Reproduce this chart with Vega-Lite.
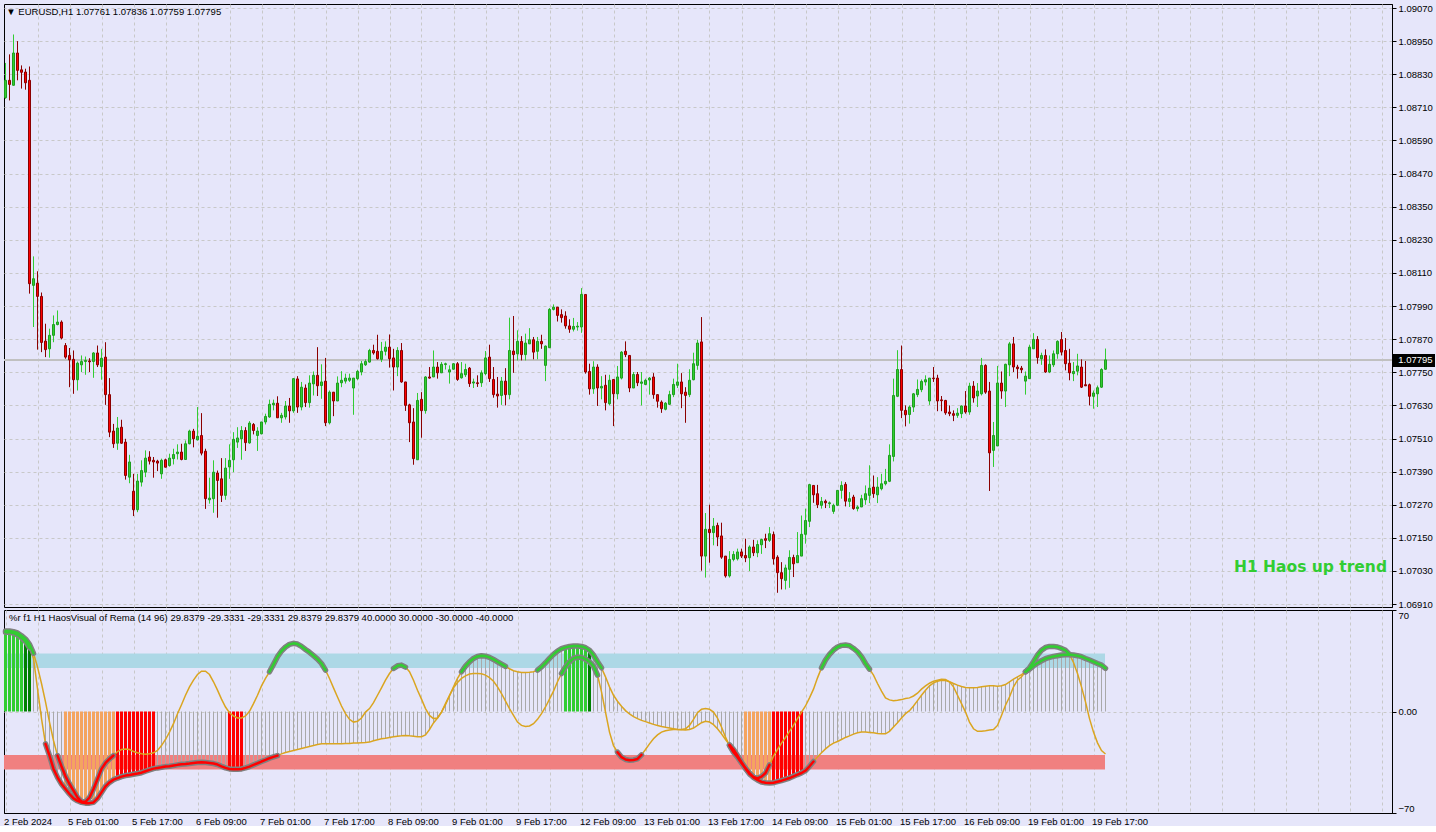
{
"$schema":"https://vega.github.io/schema/vega-lite/v6.json",
"background":"#E6E6FA",
"padding":{"left":2,"top":2,"right":0,"bottom":0},
"spacing":3,
"bounds":"flush",
"config":{"view":{"stroke":"#000000","strokeWidth":1,"fill":"#E6E6FA"},"font":"Liberation Sans","scale":{"continuousPadding":0},"axis":{"labelFont":"Liberation Sans","labelFontSize":9.5,"labelColor":"#000000","domainColor":"#000000","tickColor":"#000000","gridColor":"#C8C8C8","gridDash":[3,3],"gridWidth":1,"title":null,"labelOverlap":false,"tickCount":200}},
"data":{"values":[
{"i":0,"o":1.08745,"h":1.08871,"l":1.08741,"c":1.08808,"f":55.6,"s":54.6,"k":"l","fa":"a","sa":"a"},
{"i":1,"o":1.08808,"h":1.08902,"l":1.08735,"c":1.08793,"f":55.6,"s":54.6,"k":"l","fa":"a","sa":"a"},
{"i":2,"o":1.0879,"h":1.08974,"l":1.08789,"c":1.08907,"f":55.1,"s":54.2,"k":"l","fa":"a","sa":"a"},
{"i":3,"o":1.08907,"h":1.0895,"l":1.08808,"c":1.08844,"f":54.2,"s":52.8,"k":"l","fa":"a","sa":"a"},
{"i":4,"o":1.08846,"h":1.08862,"l":1.08778,"c":1.08837,"f":52.3,"s":50.9,"k":"l","fa":"a","sa":"a"},
{"i":5,"o":1.08838,"h":1.0885,"l":1.08774,"c":1.08799,"f":50.0,"s":48.2,"k":"d","fa":"a","sa":"a"},
{"i":6,"o":1.08808,"h":1.08858,"l":1.08035,"c":1.08071,"f":46.3,"s":44.0,"k":"d","fa":"a","sa":"a"},
{"i":7,"o":1.08065,"h":1.0817,"l":1.07914,"c":1.08089,"f":40.1,"s":36.6,"fa":"a"},
{"i":8,"o":1.08073,"h":1.08116,"l":1.07832,"c":1.08025,"f":30.8,"s":15.8},
{"i":9,"o":1.08025,"h":1.08039,"l":1.07823,"c":1.07858,"f":19.3,"s":-4.9},
{"i":10,"o":1.07863,"h":1.07926,"l":1.07805,"c":1.07832,"f":6.6,"s":-22.3,"sa":"b"},
{"i":11,"o":1.07835,"h":1.07908,"l":1.07803,"c":1.07884,"f":-7.3,"s":-30.4,"sa":"b"},
{"i":12,"o":1.07884,"h":1.07956,"l":1.07859,"c":1.07923,"f":-20.0,"s":-39.6,"sa":"b"},
{"i":13,"o":1.07923,"h":1.07974,"l":1.0792,"c":1.07932,"f":-30.4,"s":-45.4,"fa":"b","sa":"b"},
{"i":14,"o":1.07932,"h":1.07938,"l":1.07869,"c":1.07874,"f":-37.8,"s":-50.0,"fa":"b","sa":"b"},
{"i":15,"o":1.07847,"h":1.07856,"l":1.07799,"c":1.07805,"f":-44.7,"s":-53.5,"k":"o","fa":"b","sa":"b"},
{"i":16,"o":1.07811,"h":1.07838,"l":1.07696,"c":1.07795,"f":-50.0,"s":-56.9,"k":"o","fa":"b","sa":"b"},
{"i":17,"o":1.07797,"h":1.07829,"l":1.07672,"c":1.07723,"f":-54.6,"s":-59.9,"k":"o","fa":"b","sa":"b"},
{"i":18,"o":1.07723,"h":1.07789,"l":1.07684,"c":1.07783,"f":-59.3,"s":-61.6,"k":"o","fa":"b","sa":"b"},
{"i":19,"o":1.07777,"h":1.07811,"l":1.07751,"c":1.07789,"f":-62.0,"s":-62.7,"k":"o","fa":"b","sa":"b"},
{"i":20,"o":1.07789,"h":1.07807,"l":1.07741,"c":1.07793,"f":-62.3,"s":-63.2,"k":"o","fa":"b","sa":"b"},
{"i":21,"o":1.07791,"h":1.07801,"l":1.07751,"c":1.07788,"f":-59.3,"s":-63.2,"k":"o","fa":"b","sa":"b"},
{"i":22,"o":1.07789,"h":1.07823,"l":1.0773,"c":1.0782,"f":-53.5,"s":-62.7,"k":"o","fa":"b","sa":"b"},
{"i":23,"o":1.0782,"h":1.07847,"l":1.07769,"c":1.07777,"f":-46.6,"s":-59.9,"k":"o","fa":"b","sa":"b"},
{"i":24,"o":1.07771,"h":1.07835,"l":1.07723,"c":1.07801,"f":-39.6,"s":-55.8,"k":"o","fa":"b","sa":"b"},
{"i":25,"o":1.07805,"h":1.07859,"l":1.07632,"c":1.07669,"f":-35.5,"s":-51.6,"k":"o","fa":"b","sa":"b"},
{"i":26,"o":1.07669,"h":1.07729,"l":1.07515,"c":1.07533,"f":-32.7,"s":-48.9,"k":"o","fa":"b","sa":"b"},
{"i":27,"o":1.07537,"h":1.07563,"l":1.07476,"c":1.07491,"f":-30.4,"s":-47.0,"k":"o","fa":"b","sa":"b"},
{"i":28,"o":1.07493,"h":1.07588,"l":1.07469,"c":1.07548,"f":-27.6,"s":-45.9,"k":"r","sa":"b"},
{"i":29,"o":1.07551,"h":1.07578,"l":1.07491,"c":1.07493,"f":-26.2,"s":-44.9,"k":"r","sa":"b"},
{"i":30,"o":1.07497,"h":1.07509,"l":1.07361,"c":1.07376,"f":-25.8,"s":-44.2,"k":"r","sa":"b"},
{"i":31,"o":1.0737,"h":1.07451,"l":1.07348,"c":1.07425,"f":-26.2,"s":-43.8,"k":"r","sa":"b"},
{"i":32,"o":1.07319,"h":1.07382,"l":1.07229,"c":1.07252,"f":-27.6,"s":-43.3,"k":"r","sa":"b"},
{"i":33,"o":1.07252,"h":1.07382,"l":1.07243,"c":1.07356,"f":-28.5,"s":-42.8,"k":"r","sa":"b"},
{"i":34,"o":1.07352,"h":1.07431,"l":1.07336,"c":1.07394,"f":-29.2,"s":-42.2,"k":"r","sa":"b"},
{"i":35,"o":1.07388,"h":1.07467,"l":1.0737,"c":1.07439,"f":-29.5,"s":-41.2,"k":"r","sa":"b"},
{"i":36,"o":1.07443,"h":1.07464,"l":1.07416,"c":1.07428,"f":-29.2,"s":-40.3,"k":"r","sa":"b"},
{"i":37,"o":1.07431,"h":1.07443,"l":1.07368,"c":1.07425,"f":-28.5,"s":-39.4,"k":"r","sa":"b"},
{"i":38,"o":1.07428,"h":1.07433,"l":1.07392,"c":1.07421,"f":-26.9,"s":-38.9,"sa":"b"},
{"i":39,"o":1.07382,"h":1.07437,"l":1.07364,"c":1.07431,"f":-23.5,"s":-38.5,"sa":"b"},
{"i":40,"o":1.07433,"h":1.07437,"l":1.07406,"c":1.07406,"f":-19.3,"s":-38.0,"sa":"b"},
{"i":41,"o":1.07412,"h":1.07455,"l":1.07408,"c":1.07439,"f":-14.2,"s":-37.8,"sa":"b"},
{"i":42,"o":1.07437,"h":1.07473,"l":1.07416,"c":1.07452,"f":-8.4,"s":-37.3,"sa":"b"},
{"i":43,"o":1.07455,"h":1.07489,"l":1.07434,"c":1.07461,"f":-1.5,"s":-36.8,"sa":"b"},
{"i":44,"o":1.07461,"h":1.07491,"l":1.07431,"c":1.07434,"f":4.7,"s":-36.4,"sa":"b"},
{"i":45,"o":1.07434,"h":1.07503,"l":1.07433,"c":1.07491,"f":11.2,"s":-36.2,"sa":"b"},
{"i":46,"o":1.07491,"h":1.07542,"l":1.07489,"c":1.07537,"f":17.0,"s":-35.9,"sa":"b"},
{"i":47,"o":1.07537,"h":1.07545,"l":1.07478,"c":1.07509,"f":21.6,"s":-35.5,"sa":"b"},
{"i":48,"o":1.07505,"h":1.07624,"l":1.07503,"c":1.07518,"f":25.5,"s":-35.2,"sa":"b"},
{"i":49,"o":1.07521,"h":1.07602,"l":1.07449,"c":1.07457,"f":27.8,"s":-35.0,"sa":"b"},
{"i":50,"o":1.07464,"h":1.07473,"l":1.07255,"c":1.07292,"f":27.8,"s":-35.2,"sa":"b"},
{"i":51,"o":1.07288,"h":1.07368,"l":1.07274,"c":1.07294,"f":25.5,"s":-35.5,"sa":"b"},
{"i":52,"o":1.07292,"h":1.07431,"l":1.07241,"c":1.07388,"f":20.5,"s":-35.9,"sa":"b"},
{"i":53,"o":1.07385,"h":1.07394,"l":1.07223,"c":1.07358,"f":14.7,"s":-36.6,"sa":"b"},
{"i":54,"o":1.07364,"h":1.07439,"l":1.0728,"c":1.07304,"f":8.5,"s":-37.8,"sa":"b"},
{"i":55,"o":1.07304,"h":1.07439,"l":1.07288,"c":1.07403,"f":3.1,"s":-38.9,"sa":"b"},
{"i":56,"o":1.07407,"h":1.07489,"l":1.07364,"c":1.07431,"f":-0.8,"s":-39.6,"k":"r","sa":"b"},
{"i":57,"o":1.07433,"h":1.07533,"l":1.07388,"c":1.07507,"f":-3.1,"s":-39.9,"k":"r","sa":"b"},
{"i":58,"o":1.07497,"h":1.07551,"l":1.07476,"c":1.07512,"f":-4.5,"s":-39.9,"k":"r","sa":"b"},
{"i":59,"o":1.07509,"h":1.07555,"l":1.07433,"c":1.07539,"f":-4.5,"s":-39.6,"k":"r","sa":"b"},
{"i":60,"o":1.07539,"h":1.07551,"l":1.07465,"c":1.07495,"f":-3.1,"s":-38.9,"sa":"b"},
{"i":61,"o":1.07494,"h":1.07573,"l":1.07491,"c":1.07566,"f":0.1,"s":-38.0,"sa":"b"},
{"i":62,"o":1.07561,"h":1.07566,"l":1.07525,"c":1.07539,"f":5.4,"s":-36.8,"sa":"b"},
{"i":63,"o":1.07521,"h":1.07551,"l":1.07465,"c":1.07537,"f":11.2,"s":-35.7,"sa":"b"},
{"i":64,"o":1.07527,"h":1.0757,"l":1.07525,"c":1.0757,"f":17.7,"s":-34.5,"sa":"b"},
{"i":65,"o":1.0757,"h":1.076,"l":1.07561,"c":1.0759,"f":22.8,"s":-33.4,"sa":"b"},
{"i":66,"o":1.07588,"h":1.07651,"l":1.07585,"c":1.07634,"f":27.4,"s":-32.2,"fa":"c","sa":"b"},
{"i":67,"o":1.07632,"h":1.07651,"l":1.07612,"c":1.07638,"f":32.5,"s":-31.3,"fa":"c","sa":"b"},
{"i":68,"o":1.07638,"h":1.07663,"l":1.07585,"c":1.07585,"f":37.8,"s":-30.4,"fa":"c","sa":"b"},
{"i":69,"o":1.07585,"h":1.07603,"l":1.07567,"c":1.07594,"f":41.7,"s":-29.2,"fa":"c"},
{"i":70,"o":1.07588,"h":1.07646,"l":1.07579,"c":1.07628,"f":44.5,"s":-28.3,"fa":"c"},
{"i":71,"o":1.07628,"h":1.07657,"l":1.07567,"c":1.0761,"f":46.3,"s":-27.6,"fa":"c"},
{"i":72,"o":1.0761,"h":1.07729,"l":1.07603,"c":1.07727,"f":47.0,"s":-26.9,"fa":"c"},
{"i":73,"o":1.07726,"h":1.07736,"l":1.07603,"c":1.07624,"f":46.5,"s":-26.2,"fa":"c"},
{"i":74,"o":1.07624,"h":1.07715,"l":1.07612,"c":1.07696,"f":44.9,"s":-25.5,"fa":"c"},
{"i":75,"o":1.07693,"h":1.07706,"l":1.07624,"c":1.0764,"f":42.8,"s":-24.8,"fa":"c"},
{"i":76,"o":1.0764,"h":1.07739,"l":1.07622,"c":1.07711,"f":40.8,"s":-24.1,"fa":"c"},
{"i":77,"o":1.07708,"h":1.07753,"l":1.07666,"c":1.07739,"f":38.5,"s":-23.5,"fa":"c"},
{"i":78,"o":1.07739,"h":1.07841,"l":1.07664,"c":1.07701,"f":36.1,"s":-22.8,"fa":"c"},
{"i":79,"o":1.07702,"h":1.07779,"l":1.07654,"c":1.07715,"f":33.1,"s":-22.3,"fa":"c"},
{"i":80,"o":1.07718,"h":1.07802,"l":1.07555,"c":1.07567,"f":28.5,"s":-22.3,"fa":"c"},
{"i":81,"o":1.07567,"h":1.07684,"l":1.07561,"c":1.07678,"f":22.8,"s":-22.3},
{"i":82,"o":1.07678,"h":1.07678,"l":1.07591,"c":1.07646,"f":16.3,"s":-22.3},
{"i":83,"o":1.07646,"h":1.07735,"l":1.07646,"c":1.07711,"f":10.0,"s":-22.3},
{"i":84,"o":1.07712,"h":1.07754,"l":1.07696,"c":1.07721,"f":3.8,"s":-22.3},
{"i":85,"o":1.07718,"h":1.07745,"l":1.07709,"c":1.07729,"f":-1.5,"s":-22.1},
{"i":86,"o":1.07721,"h":1.07745,"l":1.07715,"c":1.07729,"f":-5.4,"s":-22.1},
{"i":87,"o":1.07693,"h":1.07729,"l":1.07596,"c":1.07729,"f":-7.3,"s":-21.8},
{"i":88,"o":1.07727,"h":1.07759,"l":1.07721,"c":1.07753,"f":-6.8,"s":-21.8},
{"i":89,"o":1.07751,"h":1.07791,"l":1.07739,"c":1.07781,"f":-4.5,"s":-21.6},
{"i":90,"o":1.07777,"h":1.07797,"l":1.07773,"c":1.07789,"f":-0.4,"s":-21.4},
{"i":91,"o":1.07787,"h":1.07835,"l":1.07785,"c":1.07829,"f":2.0,"s":-21.1},
{"i":92,"o":1.07829,"h":1.0785,"l":1.07814,"c":1.0782,"f":6.1,"s":-20.2},
{"i":93,"o":1.07826,"h":1.07886,"l":1.07796,"c":1.07799,"f":11.2,"s":-19.5},
{"i":94,"o":1.07797,"h":1.0786,"l":1.07787,"c":1.07826,"f":16.3,"s":-18.8},
{"i":95,"o":1.07826,"h":1.07862,"l":1.07811,"c":1.07841,"f":21.6,"s":-18.4},
{"i":96,"o":1.07841,"h":1.07887,"l":1.07767,"c":1.07799,"f":26.2,"s":-17.9},
{"i":97,"o":1.07802,"h":1.07835,"l":1.07684,"c":1.07769,"f":29.7,"s":-17.4,"fa":"d"},
{"i":98,"o":1.07769,"h":1.07841,"l":1.07736,"c":1.07829,"f":31.5,"s":-17.0,"fa":"d"},
{"i":99,"o":1.07829,"h":1.07856,"l":1.07712,"c":1.07715,"f":32.0,"s":-16.8,"fa":"d"},
{"i":100,"o":1.07715,"h":1.07715,"l":1.0761,"c":1.0763,"f":30.6,"s":-16.5,"fa":"d"},
{"i":101,"o":1.07632,"h":1.07636,"l":1.07497,"c":1.07567,"f":27.4,"s":-16.8},
{"i":102,"o":1.0757,"h":1.0762,"l":1.07415,"c":1.07437,"f":21.6,"s":-17.0},
{"i":103,"o":1.07433,"h":1.07675,"l":1.07433,"c":1.07648,"f":14.7,"s":-17.4},
{"i":104,"o":1.07652,"h":1.07678,"l":1.07513,"c":1.07611,"f":8.5,"s":-17.4},
{"i":105,"o":1.07611,"h":1.07736,"l":1.076,"c":1.07733,"f":2.0,"s":-16.1},
{"i":106,"o":1.07733,"h":1.07769,"l":1.07727,"c":1.07729,"f":-2.7,"s":-12.4},
{"i":107,"o":1.07733,"h":1.07829,"l":1.07733,"c":1.07769,"f":-4.9,"s":-7.9},
{"i":108,"o":1.07769,"h":1.07787,"l":1.07727,"c":1.07748,"f":-4.5,"s":-4.5},
{"i":109,"o":1.07748,"h":1.07787,"l":1.07748,"c":1.07779,"f":-0.4,"s":-0.4},
{"i":110,"o":1.07778,"h":1.07785,"l":1.0776,"c":1.07781,"f":5.4,"s":4.7},
{"i":111,"o":1.07751,"h":1.07775,"l":1.07709,"c":1.07759,"f":11.2,"s":10.7},
{"i":112,"o":1.07761,"h":1.07783,"l":1.0776,"c":1.07781,"f":16.3,"s":17.0},
{"i":113,"o":1.07781,"h":1.07787,"l":1.07719,"c":1.07724,"f":20.0,"s":22.8},
{"i":114,"o":1.0773,"h":1.07787,"l":1.07727,"c":1.07745,"f":22.8,"s":27.4,"sa":"c"},
{"i":115,"o":1.07741,"h":1.07781,"l":1.07733,"c":1.0776,"f":24.6,"s":31.3,"sa":"c"},
{"i":116,"o":1.07765,"h":1.07769,"l":1.07697,"c":1.07709,"f":25.8,"s":34.3,"sa":"c"},
{"i":117,"o":1.07711,"h":1.07727,"l":1.07693,"c":1.07715,"f":26.2,"s":36.6,"sa":"c"},
{"i":118,"o":1.07712,"h":1.07739,"l":1.07697,"c":1.07709,"f":26.2,"s":38.0,"sa":"c"},
{"i":119,"o":1.07712,"h":1.07757,"l":1.07697,"c":1.07748,"f":26.0,"s":38.5,"sa":"c"},
{"i":120,"o":1.07745,"h":1.07827,"l":1.07739,"c":1.07802,"f":25.1,"s":38.2,"sa":"c"},
{"i":121,"o":1.07805,"h":1.0785,"l":1.07715,"c":1.07727,"f":23.4,"s":37.3,"sa":"c"},
{"i":122,"o":1.07724,"h":1.07769,"l":1.07658,"c":1.07669,"f":20.9,"s":35.9,"sa":"c"},
{"i":123,"o":1.07671,"h":1.07733,"l":1.07622,"c":1.07664,"f":17.0,"s":34.3,"sa":"c"},
{"i":124,"o":1.07666,"h":1.07733,"l":1.07632,"c":1.07718,"f":12.4,"s":32.7,"sa":"c"},
{"i":125,"o":1.07718,"h":1.07765,"l":1.0763,"c":1.07669,"f":7.1,"s":31.1,"sa":"c"},
{"i":126,"o":1.07669,"h":1.07948,"l":1.07652,"c":1.07829,"f":2.0,"s":29.5},
{"i":127,"o":1.07827,"h":1.07954,"l":1.07748,"c":1.07814,"f":-2.7,"s":28.1},
{"i":128,"o":1.07817,"h":1.07902,"l":1.07793,"c":1.07862,"f":-7.3,"s":27.4},
{"i":129,"o":1.07862,"h":1.07881,"l":1.07793,"c":1.07814,"f":-9.6,"s":26.9},
{"i":130,"o":1.07814,"h":1.0789,"l":1.07793,"c":1.07856,"f":-10.3,"s":26.9},
{"i":131,"o":1.07853,"h":1.0791,"l":1.07853,"c":1.07868,"f":-10.0,"s":27.1},
{"i":132,"o":1.07868,"h":1.07878,"l":1.07797,"c":1.07823,"f":-8.4,"s":27.4},
{"i":133,"o":1.07826,"h":1.07878,"l":1.07797,"c":1.07862,"f":-5.4,"s":28.5,"sa":"d"},
{"i":134,"o":1.07862,"h":1.07886,"l":1.07835,"c":1.07853,"f":-1.5,"s":30.8,"sa":"d"},
{"i":135,"o":1.07775,"h":1.07847,"l":1.07718,"c":1.07845,"f":3.1,"s":33.6,"sa":"d"},
{"i":136,"o":1.07839,"h":1.07983,"l":1.07839,"c":1.07978,"f":8.5,"s":36.6,"sa":"d"},
{"i":137,"o":1.07978,"h":1.07996,"l":1.07974,"c":1.07986,"f":14.0,"s":39.4,"sa":"d"},
{"i":138,"o":1.07986,"h":1.07986,"l":1.07934,"c":1.07956,"f":20.5,"s":41.7,"sa":"d"},
{"i":139,"o":1.07959,"h":1.07978,"l":1.0793,"c":1.07948,"f":26.2,"s":43.3,"fa":"e","sa":"d"},
{"i":140,"o":1.07954,"h":1.07971,"l":1.07908,"c":1.07918,"f":30.8,"s":44.2,"k":"l","fa":"e","sa":"d"},
{"i":141,"o":1.07918,"h":1.07942,"l":1.07893,"c":1.07906,"f":34.3,"s":44.9,"k":"l","fa":"e","sa":"d"},
{"i":142,"o":1.07906,"h":1.07947,"l":1.07898,"c":1.07916,"f":36.6,"s":45.2,"k":"l","fa":"e","sa":"d"},
{"i":143,"o":1.07914,"h":1.07932,"l":1.07901,"c":1.07917,"f":37.5,"s":45.2,"k":"l","fa":"e","sa":"d"},
{"i":144,"o":1.07914,"h":1.08055,"l":1.07893,"c":1.08032,"f":37.3,"s":44.9,"k":"l","fa":"e","sa":"d"},
{"i":145,"o":1.08032,"h":1.08032,"l":1.07745,"c":1.07751,"f":36.1,"s":44.0,"k":"l","fa":"e","sa":"d"},
{"i":146,"o":1.07753,"h":1.07781,"l":1.07669,"c":1.0769,"f":34.3,"s":42.2,"k":"d","fa":"e","sa":"d"},
{"i":147,"o":1.0769,"h":1.0779,"l":1.07672,"c":1.07769,"f":31.3,"s":38.9,"fa":"e","sa":"d"},
{"i":148,"o":1.07769,"h":1.07779,"l":1.07628,"c":1.07693,"f":25.1,"s":34.3,"fa":"e","sa":"d"},
{"i":149,"o":1.07693,"h":1.07736,"l":1.07652,"c":1.07699,"f":13.5,"s":30.1,"sa":"d"},
{"i":150,"o":1.07703,"h":1.07741,"l":1.07612,"c":1.0764,"f":-0.4,"s":23.9},
{"i":151,"o":1.07636,"h":1.07741,"l":1.0763,"c":1.07721,"f":-14.2,"s":17.0},
{"i":152,"o":1.07724,"h":1.07724,"l":1.07555,"c":1.07672,"f":-23.5,"s":11.2},
{"i":153,"o":1.07672,"h":1.07773,"l":1.07652,"c":1.07733,"f":-28.1,"s":7.1,"fa":"f"},
{"i":154,"o":1.07729,"h":1.07827,"l":1.07724,"c":1.07823,"f":-31.5,"s":3.6,"fa":"f"},
{"i":155,"o":1.07826,"h":1.07862,"l":1.07805,"c":1.07814,"f":-33.1,"s":0.6,"fa":"f"},
{"i":156,"o":1.07811,"h":1.07811,"l":1.07678,"c":1.07693,"f":-33.6,"s":-1.7,"fa":"f"},
{"i":157,"o":1.07693,"h":1.07751,"l":1.07693,"c":1.07742,"f":-33.4,"s":-3.6,"fa":"f"},
{"i":158,"o":1.07742,"h":1.07751,"l":1.077,"c":1.07712,"f":-32.7,"s":-4.9,"fa":"f"},
{"i":159,"o":1.0771,"h":1.07751,"l":1.0763,"c":1.07715,"f":-29.9,"s":-6.1,"fa":"f"},
{"i":160,"o":1.07706,"h":1.07727,"l":1.07703,"c":1.07721,"f":-26.2,"s":-7.0},
{"i":161,"o":1.07722,"h":1.07733,"l":1.07669,"c":1.07729,"f":-22.3,"s":-7.9},
{"i":162,"o":1.07733,"h":1.07747,"l":1.07654,"c":1.07669,"f":-18.8,"s":-8.9},
{"i":163,"o":1.07669,"h":1.07669,"l":1.07622,"c":1.07645,"f":-16.1,"s":-9.6},
{"i":164,"o":1.07642,"h":1.07648,"l":1.07603,"c":1.07618,"f":-14.2,"s":-10.3},
{"i":165,"o":1.07616,"h":1.07642,"l":1.07612,"c":1.07638,"f":-13.3,"s":-10.9},
{"i":166,"o":1.07634,"h":1.07683,"l":1.07632,"c":1.07669,"f":-12.8,"s":-11.4},
{"i":167,"o":1.07669,"h":1.07727,"l":1.0766,"c":1.07706,"f":-12.4,"s":-11.9},
{"i":168,"o":1.07703,"h":1.07781,"l":1.07693,"c":1.07715,"f":-12.4,"s":-12.4},
{"i":169,"o":1.07715,"h":1.07747,"l":1.0762,"c":1.07672,"f":-12.4,"s":-12.6},
{"i":170,"o":1.07678,"h":1.07696,"l":1.07567,"c":1.07666,"f":-11.9,"s":-12.8},
{"i":171,"o":1.07669,"h":1.07761,"l":1.0766,"c":1.07721,"f":-9.6,"s":-12.4},
{"i":172,"o":1.07723,"h":1.07821,"l":1.07721,"c":1.07781,"f":-5.4,"s":-11.4},
{"i":173,"o":1.07775,"h":1.07868,"l":1.07759,"c":1.07856,"f":-0.8,"s":-9.6},
{"i":174,"o":1.0786,"h":1.0795,"l":1.07031,"c":1.07084,"f":1.5,"s":-7.7},
{"i":175,"o":1.07084,"h":1.0724,"l":1.07006,"c":1.07181,"f":2.0,"s":-6.8},
{"i":176,"o":1.07181,"h":1.0727,"l":1.0706,"c":1.07169,"f":1.5,"s":-7.3},
{"i":177,"o":1.07169,"h":1.07222,"l":1.07123,"c":1.07192,"f":-0.4,"s":-9.1},
{"i":178,"o":1.07195,"h":1.07205,"l":1.0712,"c":1.07153,"f":-4.5,"s":-11.9},
{"i":179,"o":1.07157,"h":1.07205,"l":1.07074,"c":1.0708,"f":-10.7,"s":-15.4},
{"i":180,"o":1.07084,"h":1.07084,"l":1.07006,"c":1.07012,"f":-17.7,"s":-19.3},
{"i":181,"o":1.07012,"h":1.07102,"l":1.07006,"c":1.07072,"f":-23.5,"s":-23.0,"fa":"g","sa":"e"},
{"i":182,"o":1.07072,"h":1.07102,"l":1.07065,"c":1.0709,"f":-28.1,"s":-26.2,"fa":"g","sa":"e"},
{"i":183,"o":1.07074,"h":1.07111,"l":1.07068,"c":1.07099,"f":-31.5,"s":-30.4,"fa":"g","sa":"e"},
{"i":184,"o":1.07099,"h":1.07111,"l":1.07077,"c":1.07084,"f":-35.5,"s":-35.0,"fa":"g","sa":"e"},
{"i":185,"o":1.07086,"h":1.07147,"l":1.07062,"c":1.07077,"f":-39.2,"s":-39.2,"k":"o","fa":"g","sa":"e"},
{"i":186,"o":1.07078,"h":1.07123,"l":1.0703,"c":1.07117,"f":-43.1,"s":-42.4,"k":"o","fa":"g","sa":"e"},
{"i":187,"o":1.07117,"h":1.07143,"l":1.07084,"c":1.07096,"f":-45.2,"s":-45.4,"k":"o","fa":"g","sa":"e"},
{"i":188,"o":1.07096,"h":1.07141,"l":1.0708,"c":1.07126,"f":-46.1,"s":-47.2,"k":"o","fa":"g","sa":"e"},
{"i":189,"o":1.07125,"h":1.07147,"l":1.07092,"c":1.07144,"f":-44.9,"s":-48.6,"k":"o","fa":"g","sa":"e"},
{"i":190,"o":1.07147,"h":1.07165,"l":1.07113,"c":1.07141,"f":-42.4,"s":-49.1,"k":"o","fa":"g","sa":"e"},
{"i":191,"o":1.07141,"h":1.07189,"l":1.07135,"c":1.07165,"f":-36.8,"s":-49.3,"k":"o","fa":"g","sa":"e"},
{"i":192,"o":1.07162,"h":1.07173,"l":1.07053,"c":1.07074,"f":-30.8,"s":-49.1,"k":"r","sa":"e"},
{"i":193,"o":1.0708,"h":1.07087,"l":1.06951,"c":1.07024,"f":-26.2,"s":-48.4,"k":"r","sa":"e"},
{"i":194,"o":1.07024,"h":1.07062,"l":1.06963,"c":1.07002,"f":-21.8,"s":-47.7,"k":"r","sa":"e"},
{"i":195,"o":1.06996,"h":1.07053,"l":1.06963,"c":1.07041,"f":-17.9,"s":-46.8,"k":"r","sa":"e"},
{"i":196,"o":1.07036,"h":1.07105,"l":1.06969,"c":1.07079,"f":-13.7,"s":-45.9,"k":"r","sa":"e"},
{"i":197,"o":1.07079,"h":1.07089,"l":1.07008,"c":1.07056,"f":-9.6,"s":-44.7,"k":"r","sa":"e"},
{"i":198,"o":1.0706,"h":1.07171,"l":1.0706,"c":1.07086,"f":-4.9,"s":-43.5,"k":"r","sa":"e"},
{"i":199,"o":1.07084,"h":1.07231,"l":1.07084,"c":1.07163,"f":-0.4,"s":-42.4,"k":"r","sa":"e"},
{"i":200,"o":1.07163,"h":1.07256,"l":1.07129,"c":1.07213,"f":3.8,"s":-40.8,"sa":"e"},
{"i":201,"o":1.0721,"h":1.07346,"l":1.07189,"c":1.07343,"f":9.4,"s":-37.8,"sa":"e"},
{"i":202,"o":1.0734,"h":1.0734,"l":1.07277,"c":1.07306,"f":15.4,"s":-34.5,"sa":"e"},
{"i":203,"o":1.0731,"h":1.07342,"l":1.07258,"c":1.0727,"f":23.2,"s":-31.3},
{"i":204,"o":1.07268,"h":1.07298,"l":1.07256,"c":1.07282,"f":30.1,"s":-28.5,"fa":"h"},
{"i":205,"o":1.07283,"h":1.07289,"l":1.07258,"c":1.07277,"f":35.5,"s":-25.8,"fa":"h"},
{"i":206,"o":1.07274,"h":1.07282,"l":1.07258,"c":1.07277,"f":39.4,"s":-23.5,"fa":"h"},
{"i":207,"o":1.07246,"h":1.07274,"l":1.07237,"c":1.07268,"f":42.4,"s":-21.8,"fa":"h"},
{"i":208,"o":1.07268,"h":1.07322,"l":1.07265,"c":1.07322,"f":44.5,"s":-20.7,"fa":"h"},
{"i":209,"o":1.07322,"h":1.07355,"l":1.07292,"c":1.0734,"f":45.6,"s":-19.3,"fa":"h"},
{"i":210,"o":1.07344,"h":1.07352,"l":1.07264,"c":1.07283,"f":45.9,"s":-17.9,"fa":"h"},
{"i":211,"o":1.07282,"h":1.07316,"l":1.07262,"c":1.07292,"f":45.4,"s":-16.8,"fa":"h"},
{"i":212,"o":1.07298,"h":1.07306,"l":1.07252,"c":1.07256,"f":43.5,"s":-15.6,"fa":"h"},
{"i":213,"o":1.07256,"h":1.07268,"l":1.07246,"c":1.07262,"f":41.2,"s":-14.7,"fa":"h"},
{"i":214,"o":1.07262,"h":1.07306,"l":1.07262,"c":1.07292,"f":37.8,"s":-14.2,"fa":"h"},
{"i":215,"o":1.07288,"h":1.0734,"l":1.0727,"c":1.0731,"f":33.1,"s":-14.2,"fa":"h"},
{"i":216,"o":1.07304,"h":1.07413,"l":1.07276,"c":1.0733,"f":29.2,"s":-14.4,"fa":"h"},
{"i":217,"o":1.07334,"h":1.07376,"l":1.07295,"c":1.0731,"f":25.1,"s":-14.7},
{"i":218,"o":1.07306,"h":1.0737,"l":1.07276,"c":1.07334,"f":19.3,"s":-15.1},
{"i":219,"o":1.07328,"h":1.07382,"l":1.07322,"c":1.07346,"f":14.0,"s":-15.4},
{"i":220,"o":1.07346,"h":1.074,"l":1.0734,"c":1.07355,"f":9.4,"s":-15.4},
{"i":221,"o":1.07355,"h":1.07489,"l":1.07352,"c":1.07449,"f":8.0,"s":-13.7},
{"i":222,"o":1.07445,"h":1.07727,"l":1.07427,"c":1.07666,"f":7.5,"s":-10.7},
{"i":223,"o":1.07663,"h":1.0783,"l":1.0766,"c":1.0776,"f":7.7,"s":-7.7},
{"i":224,"o":1.0776,"h":1.07847,"l":1.07584,"c":1.07612,"f":8.2,"s":-4.5},
{"i":225,"o":1.07612,"h":1.0763,"l":1.07554,"c":1.07596,"f":8.9,"s":-1.5},
{"i":226,"o":1.07597,"h":1.0763,"l":1.07564,"c":1.07624,"f":9.4,"s":0.6},
{"i":227,"o":1.07624,"h":1.07675,"l":1.07606,"c":1.07672,"f":10.7,"s":3.8},
{"i":228,"o":1.07669,"h":1.07724,"l":1.0766,"c":1.07688,"f":12.6,"s":7.5},
{"i":229,"o":1.07687,"h":1.07724,"l":1.07678,"c":1.07717,"f":15.4,"s":11.2},
{"i":230,"o":1.07715,"h":1.07739,"l":1.07702,"c":1.07723,"f":17.7,"s":14.7},
{"i":231,"o":1.07646,"h":1.07729,"l":1.07632,"c":1.07729,"f":19.5,"s":17.7},
{"i":232,"o":1.07729,"h":1.07769,"l":1.07715,"c":1.07727,"f":20.9,"s":19.8},
{"i":233,"o":1.07729,"h":1.07741,"l":1.07609,"c":1.07646,"f":21.6,"s":20.9},
{"i":234,"o":1.0765,"h":1.07664,"l":1.07609,"c":1.07647,"f":22.3,"s":21.6},
{"i":235,"o":1.07648,"h":1.0765,"l":1.07596,"c":1.07603,"f":22.1,"s":21.4},
{"i":236,"o":1.07606,"h":1.0763,"l":1.07591,"c":1.076,"f":20.5,"s":20.5},
{"i":237,"o":1.076,"h":1.07612,"l":1.07573,"c":1.07594,"f":17.0,"s":19.3},
{"i":238,"o":1.07594,"h":1.0762,"l":1.07585,"c":1.07602,"f":11.2,"s":18.2},
{"i":239,"o":1.076,"h":1.0763,"l":1.07584,"c":1.07628,"f":5.4,"s":17.2},
{"i":240,"o":1.07628,"h":1.07682,"l":1.076,"c":1.07606,"f":-0.4,"s":16.5},
{"i":241,"o":1.07606,"h":1.07712,"l":1.07596,"c":1.077,"f":-7.3,"s":16.3},
{"i":242,"o":1.077,"h":1.07718,"l":1.0764,"c":1.07657,"f":-11.9,"s":16.3},
{"i":243,"o":1.07664,"h":1.07711,"l":1.07624,"c":1.07682,"f":-13.7,"s":16.5},
{"i":244,"o":1.07672,"h":1.07802,"l":1.07666,"c":1.07775,"f":-13.7,"s":17.0},
{"i":245,"o":1.07775,"h":1.07779,"l":1.07672,"c":1.07678,"f":-13.3,"s":17.4},
{"i":246,"o":1.07682,"h":1.07715,"l":1.0732,"c":1.07458,"f":-12.8,"s":17.7},
{"i":247,"o":1.07467,"h":1.0757,"l":1.07407,"c":1.07521,"f":-12.4,"s":17.7},
{"i":248,"o":1.07483,"h":1.07773,"l":1.07483,"c":1.07711,"f":-9.6,"s":17.4},
{"i":249,"o":1.07711,"h":1.07753,"l":1.07654,"c":1.07682,"f":-2.7,"s":17.7},
{"i":250,"o":1.07682,"h":1.07781,"l":1.07624,"c":1.07779,"f":4.3,"s":18.6},
{"i":251,"o":1.07777,"h":1.0786,"l":1.07736,"c":1.07853,"f":10.0,"s":20.5},
{"i":252,"o":1.07853,"h":1.07878,"l":1.07751,"c":1.07769,"f":17.0,"s":22.3},
{"i":253,"o":1.07769,"h":1.07777,"l":1.07727,"c":1.07763,"f":21.6,"s":23.9},
{"i":254,"o":1.07765,"h":1.07773,"l":1.07747,"c":1.07759,"f":23.9,"s":25.5},
{"i":255,"o":1.07718,"h":1.07753,"l":1.07669,"c":1.07736,"f":27.4,"s":27.4,"fa":"i","sa":"f"},
{"i":256,"o":1.07727,"h":1.0785,"l":1.07727,"c":1.07841,"f":30.1,"s":29.2,"fa":"i","sa":"f"},
{"i":257,"o":1.07835,"h":1.07892,"l":1.07835,"c":1.07869,"f":34.3,"s":31.5,"fa":"i","sa":"f"},
{"i":258,"o":1.07869,"h":1.07881,"l":1.07781,"c":1.07803,"f":38.9,"s":33.4,"fa":"i","sa":"f"},
{"i":259,"o":1.07799,"h":1.07821,"l":1.07777,"c":1.07811,"f":42.2,"s":35.0,"fa":"i","sa":"f"},
{"i":260,"o":1.07811,"h":1.07833,"l":1.07748,"c":1.07751,"f":44.2,"s":36.4,"fa":"i","sa":"f"},
{"i":261,"o":1.07751,"h":1.07811,"l":1.07747,"c":1.07779,"f":44.9,"s":37.3,"fa":"i","sa":"f"},
{"i":262,"o":1.07777,"h":1.07829,"l":1.07769,"c":1.07817,"f":44.9,"s":38.0,"fa":"i","sa":"f"},
{"i":263,"o":1.07817,"h":1.07866,"l":1.07799,"c":1.07862,"f":44.5,"s":38.5,"fa":"i","sa":"f"},
{"i":264,"o":1.07869,"h":1.07896,"l":1.07811,"c":1.07823,"f":43.5,"s":38.9,"fa":"i","sa":"f"},
{"i":265,"o":1.07829,"h":1.07874,"l":1.07757,"c":1.07781,"f":42.2,"s":39.1,"fa":"i","sa":"f"},
{"i":266,"o":1.07783,"h":1.07835,"l":1.07721,"c":1.07748,"f":39.4,"s":39.1,"fa":"i","sa":"f"},
{"i":267,"o":1.07745,"h":1.07787,"l":1.07718,"c":1.07753,"f":33.8,"s":38.9,"sa":"f"},
{"i":268,"o":1.07754,"h":1.07817,"l":1.07739,"c":1.07773,"f":26.2,"s":38.5,"sa":"f"},
{"i":269,"o":1.07769,"h":1.07797,"l":1.07693,"c":1.07696,"f":17.0,"s":37.8,"sa":"f"},
{"i":270,"o":1.07705,"h":1.07791,"l":1.077,"c":1.07701,"f":6.6,"s":36.6,"sa":"f"},
{"i":271,"o":1.07705,"h":1.07709,"l":1.0763,"c":1.07663,"f":-4.9,"s":35.5,"sa":"f"},
{"i":272,"o":1.07663,"h":1.07684,"l":1.07618,"c":1.07675,"f":-14.2,"s":34.3,"sa":"f"},
{"i":273,"o":1.07672,"h":1.07702,"l":1.07624,"c":1.07694,"f":-21.6,"s":33.1,"sa":"f"},
{"i":274,"o":1.07696,"h":1.07765,"l":1.07693,"c":1.0776,"f":-26.9,"s":32.0,"sa":"f"},
{"i":275,"o":1.07761,"h":1.07836,"l":1.07759,"c":1.07795,"f":-29.3,"s":29.8,"sa":"f"}
]},
"vconcat":[
{
"width":1388,"height":603,
"layer":[
{"mark":{"type":"rule","color":"#C0C0C0","strokeWidth":1},"encoding":{"y":{"datum":1.07795,"type":"quantitative"}}},
{"mark":{"type":"rule","strokeWidth":1},
 "encoding":{
  "x":{"field":"i","type":"quantitative","scale":{"domain":[-0.375,346.625],"nice":false,"zero":false,"padding":0},
       "axis":{"orient":"bottom","values":[8,16,24,32,40,48,56,64,72,80,88,96,104,112,120,128,136,144,152,160,168,176,184,192,200,208,216,224,232,240,248,256,264,272,280,288,296,304,312,320,328,336,344],"tickCount":200,"labels":false,"ticks":false,"domain":false,"grid":true}},
  "y":{"field":"l","type":"quantitative","scale":{"domain":[1.068995,1.090845],"nice":false,"zero":false,"padding":0},
       "axis":{"orient":"right","values":[1.0691,1.0703,1.0715,1.0727,1.0739,1.0751,1.0763,1.0775,1.0787,1.0799,1.0811,1.0823,1.0835,1.0847,1.0859,1.0871,1.0883,1.0895,1.0907],"tickCount":200,"format":".5f","grid":true,"tickSize":4,"labelPadding":2,"labelOverlap":false}},
  "y2":{"field":"h"},
  "color":{"condition":{"test":"datum.c >= datum.o","value":"#32CD32"},"value":"#8B0000"}
 }},
{"mark":{"type":"bar","width":2,"strokeWidth":1},
 "encoding":{
  "x":{"field":"i","type":"quantitative"},
  "y":{"field":"o","type":"quantitative"},
  "y2":{"field":"c"},
  "fill":{"condition":{"test":"datum.c >= datum.o","value":"#32CD32"},"value":"#FF0000"},
  "stroke":{"condition":{"test":"datum.c >= datum.o","value":"#1E9E1E"},"value":"#8B0000"}
 }},
{"data":{"values":[{"t":"▼  EURUSD,H1  1.07761 1.07836 1.07759 1.07795"}]},
 "mark":{"type":"text","align":"left","baseline":"middle","fontSize":9.5,"font":"Liberation Sans","color":"#000000"},
 "encoding":{"x":{"datum":0.2,"type":"quantitative"},"y":{"datum":1.09055,"type":"quantitative"},"text":{"field":"t"}}},
{"data":{"values":[{"t":"H1 Haos up trend"}]},
 "mark":{"type":"text","align":"right","baseline":"middle","fontSize":15.5,"font":"DejaVu Sans","fontWeight":"bold","color":"#32CD32"},
 "encoding":{"x":{"datum":345.375,"type":"quantitative"},"y":{"datum":1.070445,"type":"quantitative"},"text":{"field":"t"}}},
{"data":{"values":[{"t":"1.07795"}]},
 "mark":{"type":"rect","color":"#000000"},
 "encoding":{"x":{"datum":346.875,"type":"quantitative"},"x2":{"datum":357.375},"y":{"datum":1.078163,"type":"quantitative"},"y2":{"datum":1.077692}}},
{"data":{"values":[{"t":"1.07795"}]},
 "mark":{"type":"text","align":"left","baseline":"middle","fontSize":9.5,"font":"Liberation Sans","color":"#FFFFFF"},
 "encoding":{"x":{"datum":348.2,"type":"quantitative"},"y":{"datum":1.07793,"type":"quantitative"},"text":{"field":"t"}}}
]
},
{
"width":1388,"height":203,
"layer":[
{"data":{"values":[{"a":30,"b":40,"z":"u"},{"a":-40,"b":-30,"z":"d"}]},
 "mark":{"type":"rect"},
 "encoding":{
  "x":{"datum":-0.375,"type":"quantitative","scale":{"domain":[-0.375,346.625],"nice":false,"zero":false,"padding":0},
       "axis":{"orient":"bottom","values":[0,8,16,24,32,40,48,56,64,72,80,88,96,104,112,120,128,136,144,152,160,168,176,184,192,200,208,216,224,232,240,248,256,264,272,280,288,296,304,312,320,328,336,344],"tickCount":200,"grid":true,"ticks":false,"labelAlign":"left","labelPadding":3,"labelOffset":-2,"labelFlush":false,"labelOverlap":false,"labelBound":false,
       "labelExpr":"(datum.value % 16 == 0 && datum.value <= 272) ? ['2 Feb 2024','5 Feb 01:00','5 Feb 17:00','6 Feb 09:00','7 Feb 01:00','7 Feb 17:00','8 Feb 09:00','9 Feb 01:00','9 Feb 17:00','12 Feb 09:00','13 Feb 01:00','13 Feb 17:00','14 Feb 09:00','15 Feb 01:00','15 Feb 17:00','16 Feb 09:00','19 Feb 01:00','19 Feb 17:00'][datum.value/16] : ''"}},
  "x2":{"datum":274.875},
  "y":{"field":"a","type":"quantitative","scale":{"domain":[-70,70],"nice":false,"zero":false,"padding":0},
       "axis":{"orient":"right","values":[-70,0,70],"labelFlush":true,"tickSize":4,"labelPadding":2,"grid":true,"gridOpacity":{"condition":{"test":"datum.value == 0","value":1},"value":0},"labelExpr":"datum.value == 0 ? '0.00' : format(datum.value, 'd')"}},
  "y2":{"field":"b"},
  "fill":{"condition":{"test":"datum.z == 'u'","value":"#ADD8E6"},"value":"#F08080"}
 }},
{"transform":[{"filter":"!datum.k"}],
 "mark":{"type":"bar","width":1,"color":"#A9A9A9"},
 "encoding":{"x":{"field":"i","type":"quantitative"},"y":{"field":"s","type":"quantitative"},"y2":{"datum":0}}},
{"transform":[{"filter":"datum.k"}],
 "mark":{"type":"bar","width":3},
 "encoding":{"x":{"field":"i","type":"quantitative"},"y":{"field":"s","type":"quantitative"},"y2":{"datum":0},
  "color":{"field":"k","type":"nominal","scale":{"domain":["l","d","o","r"],"range":["#32CD32","#008000","#F4A460","#FF0000"]},"legend":null}}},
{"mark":{"type":"line","color":"#DAA520","strokeWidth":1.5},
 "encoding":{"x":{"field":"i","type":"quantitative"},"y":{"field":"s","type":"quantitative"}}},
{"mark":{"type":"line","color":"#DAA520","strokeWidth":1.5},
 "encoding":{"x":{"field":"i","type":"quantitative"},"y":{"field":"f","type":"quantitative"}}},
{"transform":[{"filter":"datum.sa != null"}],
 "mark":{"type":"line","color":"#808080","strokeWidth":5.5,"strokeCap":"round","strokeJoin":"round"},
 "encoding":{"x":{"field":"i","type":"quantitative"},"y":{"field":"s","type":"quantitative"},"detail":{"field":"sa"}}},
{"transform":[{"filter":"datum.fa != null"}],
 "mark":{"type":"line","color":"#808080","strokeWidth":5.5,"strokeCap":"round","strokeJoin":"round"},
 "encoding":{"x":{"field":"i","type":"quantitative"},"y":{"field":"f","type":"quantitative"},"detail":{"field":"fa"}}},
{"transform":[{"filter":"datum.sa != null"}],
 "mark":{"type":"line","strokeWidth":2.5,"strokeCap":"round","strokeJoin":"round"},
 "encoding":{"x":{"field":"i","type":"quantitative"},"y":{"field":"s","type":"quantitative"},"detail":{"field":"sa"},
  "stroke":{"condition":{"test":"datum.s > 0","value":"#32CD32"},"value":"#FF0000"}}},
{"transform":[{"filter":"datum.fa != null"}],
 "mark":{"type":"line","strokeWidth":2.5,"strokeCap":"round","strokeJoin":"round"},
 "encoding":{"x":{"field":"i","type":"quantitative"},"y":{"field":"f","type":"quantitative"},"detail":{"field":"fa"},
  "stroke":{"condition":{"test":"datum.f > 0","value":"#32CD32"},"value":"#FF0000"}}},
{"data":{"values":[{"t":"%r f1 H1 HaosVisual of Rema (14 96) 29.8379 -29.3331 -29.3331 29.8379 29.8379 40.0000 30.0000 -30.0000 -40.0000"}]},
 "mark":{"type":"text","align":"left","baseline":"middle","fontSize":9.5,"font":"Liberation Sans","color":"#000000"},
 "encoding":{"x":{"datum":0.875,"type":"quantitative"},"y":{"datum":64.8,"type":"quantitative"},"text":{"field":"t"}}}
]
}
]
}
